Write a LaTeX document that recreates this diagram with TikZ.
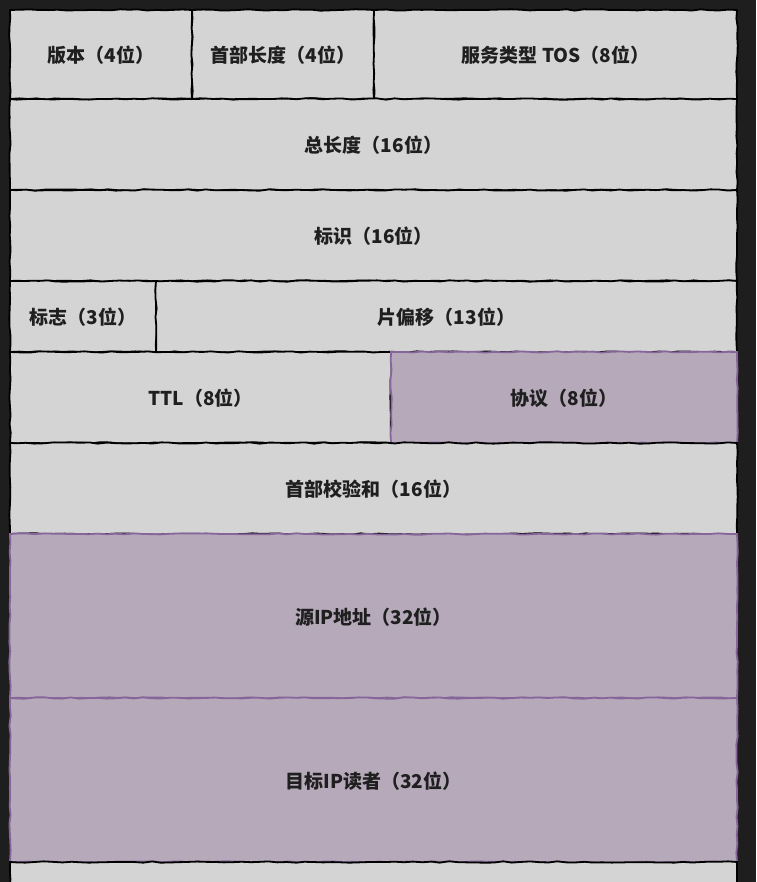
\documentclass[tikz,border=0pt]{standalone}
\usepackage{fontspec}
\newfontfamily\cjk{Noto Sans CJK SC}
\usetikzlibrary{decorations.pathmorphing}
\definecolor{bgdark}{HTML}{1E1E1E}
\definecolor{cellgray}{HTML}{D4D4D4}
\definecolor{cellpurple}{HTML}{B5A9BA}
\definecolor{edgepurple}{HTML}{86669A}
\begin{document}
\begin{tikzpicture}[
    x=1pt, y=-1pt,
    every node/.style={font=\cjk\bfseries\fontsize{19}{22}\selectfont, text=black!88},
    field/.style={rectangle, draw=black, fill=cellgray, line width=1.8pt,
        inner sep=0pt, outer sep=0pt, text depth=-5pt,
        decorate, decoration={random steps, segment length=9pt, amplitude=0.7pt}},
    hot/.style={field, draw=edgepurple, fill=cellpurple},
    cell/.style 2 args={field, minimum width=#1, minimum height=#2}
]
\useasboundingbox (0,0) rectangle (756,882);
\fill[bgdark] (0,0) rectangle (756,882);
\begin{scope}
\clip (0,0) rectangle (756,882);
% row 1
\node[cell={182pt}{89pt}] (version) at (101,54.5) {版本（4位）};
\node[cell={182pt}{89pt}] (hlen) at (283,54.5) {首部长度（4位）};
\node[cell={363pt}{89pt}] (tos) at (555.5,54.5) {服务类型 TOS（8位）};
% rows 2-3
\node[cell={727pt}{91pt}] (total) at (373.5,144.5) {总长度（16位）};
\node[cell={727pt}{91pt}] (ident) at (373.5,235.5) {标识（16位）};
% row 4
\node[cell={146pt}{71pt}] (flags) at (83,316.5) {标志（3位）};
\node[cell={581pt}{71pt}] (offset) at (446.5,316.5) {片偏移（13位）};
% row 5
\node[cell={381pt}{91pt}] (ttl) at (200.5,397.5) {TTL（8位）};
\node[cell={346pt}{91pt}, hot] (proto) at (564,397.5) {协议（8位）};
% row 6
\node[cell={727pt}{91pt}] (csum) at (373.5,488.5) {首部校验和（16位）};
% addresses
\node[cell={727pt}{164pt}, hot] (src) at (373.5,616) {源IP地址（32位）};
\node[cell={727pt}{164pt}, hot] (dst) at (373.5,780) {目标IP读者（32位）};
\node[cell={727pt}{60pt}] (opts) at (373.5,892) {};
\end{scope}
\end{tikzpicture}
\end{document}
